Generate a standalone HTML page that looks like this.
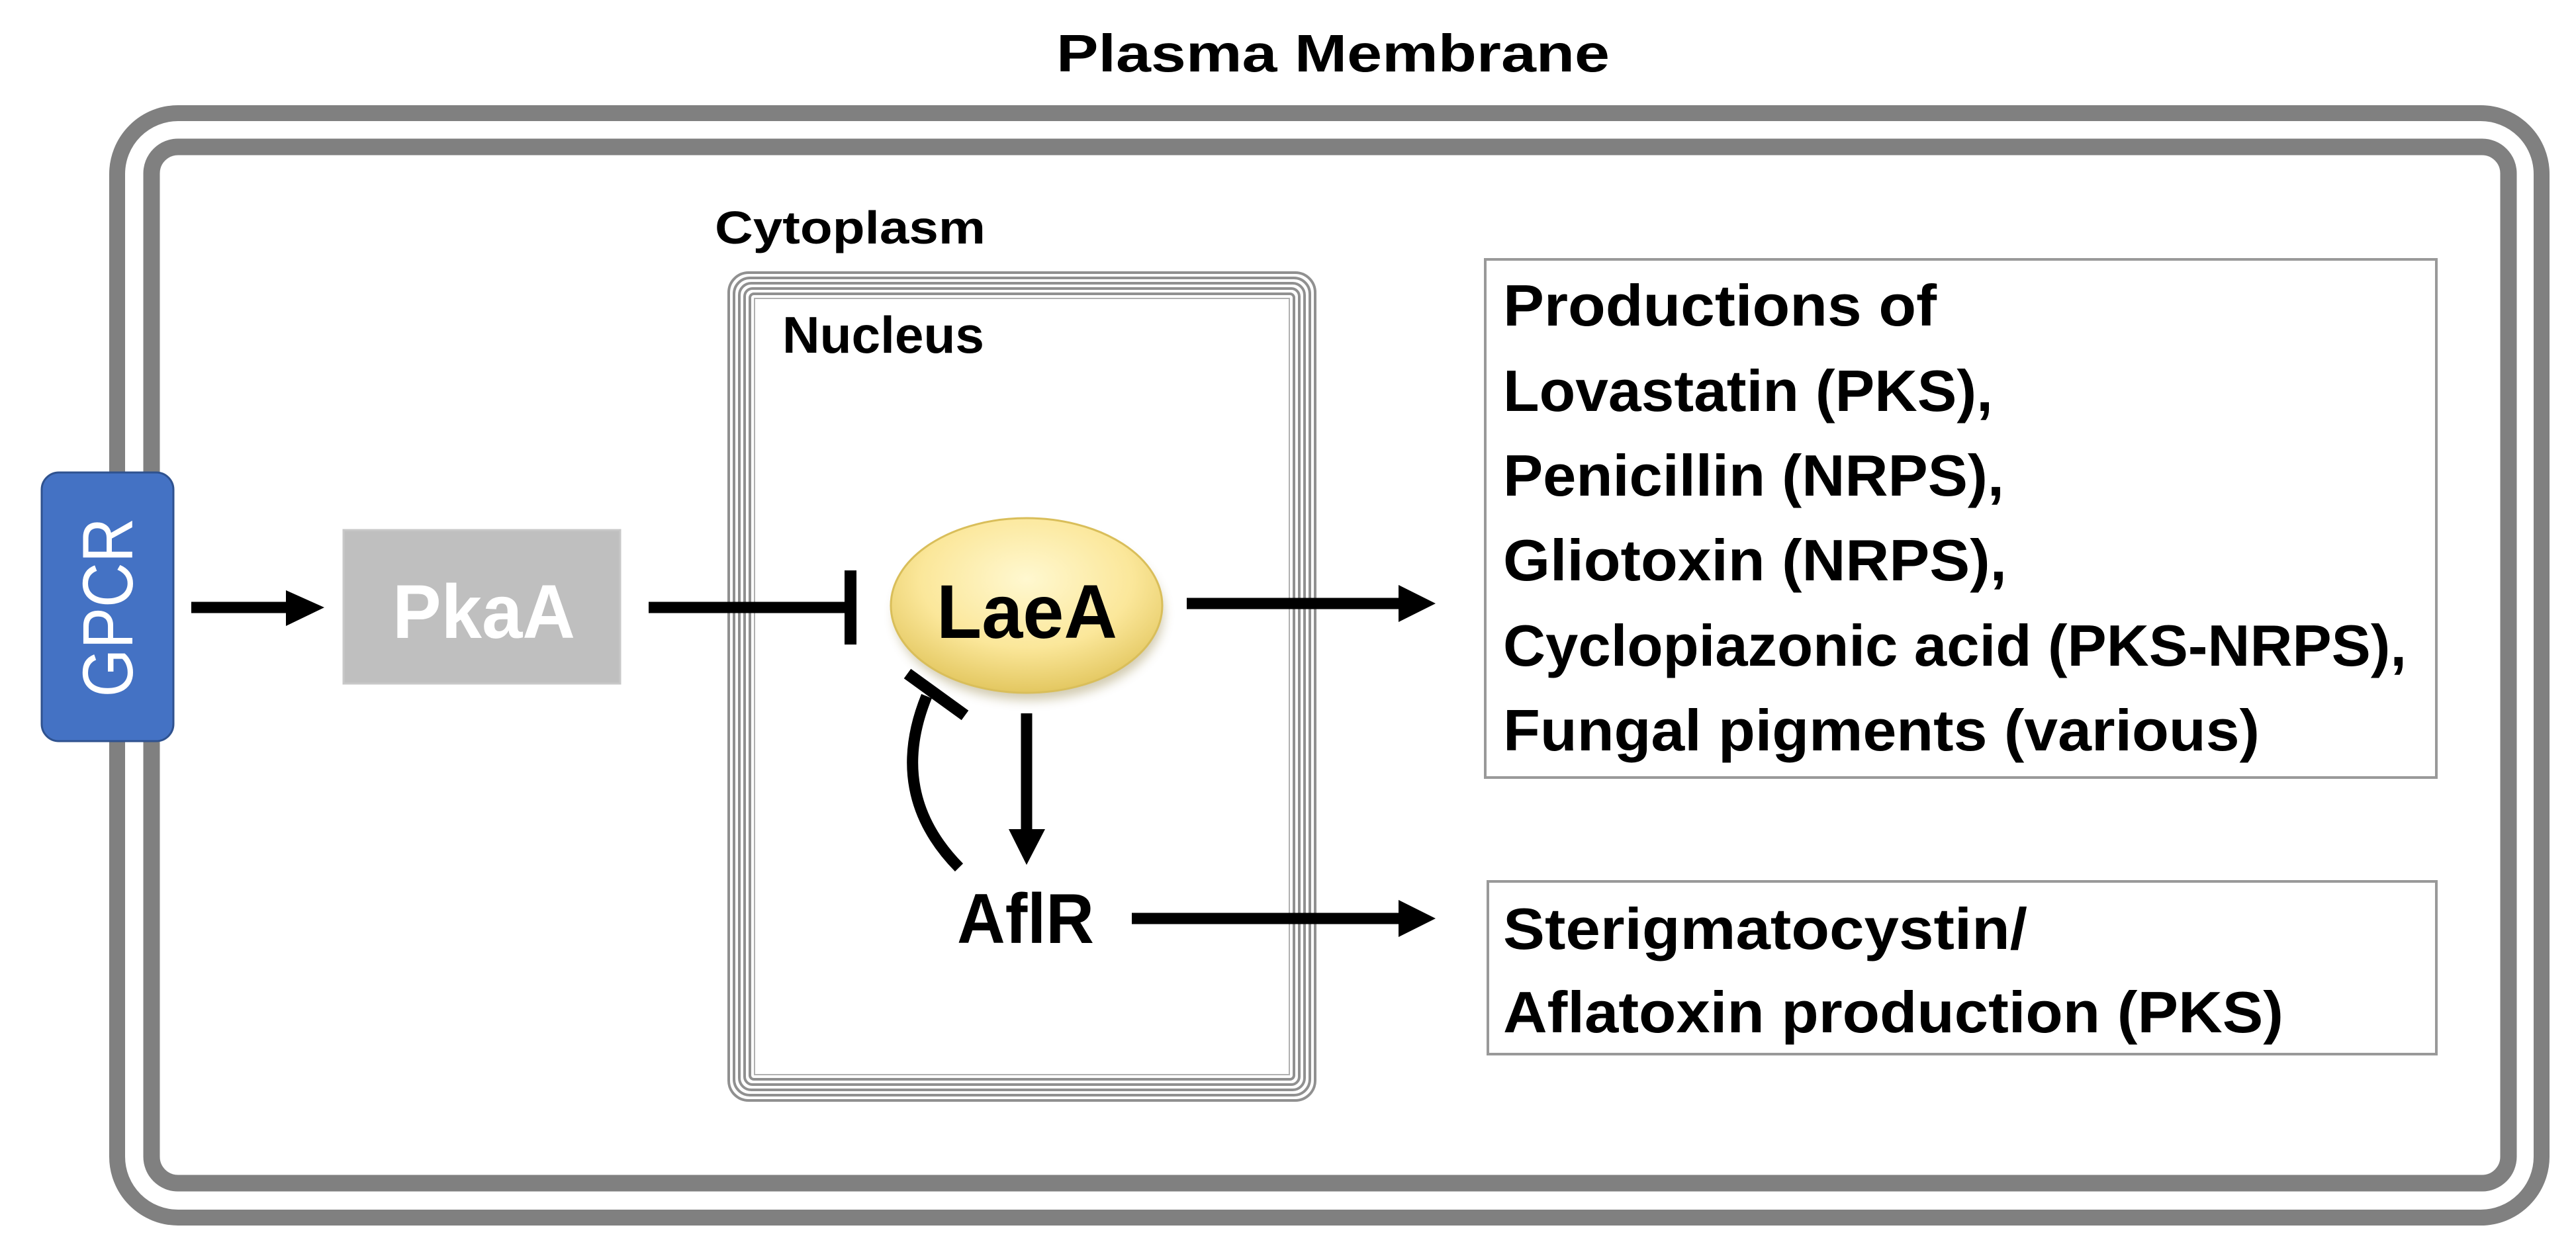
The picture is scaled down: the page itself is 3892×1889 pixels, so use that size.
<!DOCTYPE html>
<html><head><meta charset="utf-8"><style>
html,body{margin:0;padding:0;background:#fff;}
svg{display:block;}
text{font-family:"Liberation Sans",sans-serif;}
</style></head><body>
<svg width="3892" height="1889" viewBox="0 0 3892 1889" xmlns="http://www.w3.org/2000/svg">
<defs>
<radialGradient id="lg" cx="50%" cy="35%" r="65%">
<stop offset="0" stop-color="#FFF8D0"/>
<stop offset="0.6" stop-color="#FBE79A"/>
<stop offset="1" stop-color="#E3C760"/>
</radialGradient>
<filter id="sh" x="-20%" y="-20%" width="140%" height="150%"><feGaussianBlur stdDeviation="8"/></filter>
</defs>
<text x="1596" y="108" font-size="80" font-weight="bold" textLength="836" lengthAdjust="spacingAndGlyphs">Plasma Membrane</text>
<rect x="177" y="171" width="3663" height="1669" rx="92" fill="none" stroke="#808080" stroke-width="24"/>
<rect x="229" y="222" width="3561" height="1566" rx="40" fill="none" stroke="#808080" stroke-width="25"/>
<!-- GPCR -->
<rect x="63" y="714" width="199" height="406" rx="26" fill="#4472C4" stroke="#2F528F" stroke-width="3"/>
<text transform="translate(200,918) rotate(-90)" x="0" y="0" text-anchor="middle" font-size="108" fill="#fff" textLength="271" lengthAdjust="spacingAndGlyphs">GPCR</text>
<!-- arrow GPCR->PkaA -->
<line x1="289" y1="918" x2="440" y2="918" stroke="#000" stroke-width="17"/>
<polygon points="432,892 490,918 432,946" fill="#000"/>
<!-- PkaA -->
<rect x="519" y="801" width="418" height="232" fill="#BFBFBF" stroke="#C8C8C8" stroke-width="3"/>
<text x="593" y="964" font-size="115" font-weight="bold" fill="#fff" textLength="276" lengthAdjust="spacingAndGlyphs">PkaA</text>
<!-- Cytoplasm -->
<text x="1080" y="368" font-size="70" font-weight="bold" textLength="409" lengthAdjust="spacingAndGlyphs">Cytoplasm</text>
<!-- Nucleus nested -->
<g fill="none" stroke="#909090" stroke-width="4">
<rect x="1101" y="412" width="886" height="1251" rx="30"/>
<rect x="1109" y="420" width="870" height="1235" rx="24"/>
<rect x="1117" y="428" width="854" height="1219" rx="18"/>
<rect x="1125" y="436" width="838" height="1203" rx="12"/>
<rect x="1133" y="444" width="822" height="1187" rx="6"/>
</g>
<rect x="1140" y="451" width="808" height="1173" fill="none" stroke="#b0b0b0" stroke-width="2"/>
<text x="1182" y="533" font-size="78" font-weight="bold" textLength="305" lengthAdjust="spacingAndGlyphs">Nucleus</text>
<!-- PkaA inhibit LaeA -->
<line x1="980" y1="918" x2="1285" y2="918" stroke="#000" stroke-width="17"/>
<line x1="1285" y1="862" x2="1285" y2="974" stroke="#000" stroke-width="18"/>
<!-- LaeA ellipse -->
<ellipse cx="1555" cy="928" rx="203" ry="130" fill="#9a8a50" opacity="0.45" filter="url(#sh)"/>
<ellipse cx="1551" cy="915" rx="205" ry="132" fill="url(#lg)" stroke="#D9BE5A" stroke-width="3"/>
<text x="1415" y="964" font-size="115" font-weight="bold" textLength="273" lengthAdjust="spacingAndGlyphs">LaeA</text>
<!-- LaeA -> products -->
<line x1="1793" y1="912" x2="2120" y2="912" stroke="#000" stroke-width="17"/>
<polygon points="2113,884 2169,912 2113,940" fill="#000"/>
<!-- LaeA -> AflR -->
<line x1="1551" y1="1078" x2="1551" y2="1260" stroke="#000" stroke-width="17"/>
<polygon points="1524,1253 1579,1253 1551,1307" fill="#000"/>
<!-- AflR inhibit LaeA curve -->
<path d="M1449,1311 Q1340,1200 1400,1052" fill="none" stroke="#000" stroke-width="17"/>
<line x1="1371" y1="1018" x2="1458" y2="1081" stroke="#000" stroke-width="18"/>
<!-- AflR -->
<text x="1446" y="1425" font-size="107" font-weight="bold" textLength="207" lengthAdjust="spacingAndGlyphs">AflR</text>
<line x1="1710" y1="1388" x2="2120" y2="1388" stroke="#000" stroke-width="17"/>
<polygon points="2113,1360 2169,1388 2113,1416" fill="#000"/>
<!-- Products box -->
<rect x="2244" y="392" width="1437" height="783" fill="#fff" stroke="#999" stroke-width="4"/>
<g font-size="88" font-weight="bold">
<text x="2271" y="492" textLength="655" lengthAdjust="spacingAndGlyphs">Productions of</text>
<text x="2271" y="621" textLength="740" lengthAdjust="spacingAndGlyphs">Lovastatin (PKS),</text>
<text x="2271" y="749" textLength="757" lengthAdjust="spacingAndGlyphs">Penicillin (NRPS),</text>
<text x="2271" y="877" textLength="761" lengthAdjust="spacingAndGlyphs">Gliotoxin (NRPS),</text>
<text x="2271" y="1006" textLength="1365" lengthAdjust="spacingAndGlyphs">Cyclopiazonic acid (PKS-NRPS),</text>
<text x="2271" y="1134" textLength="1143" lengthAdjust="spacingAndGlyphs">Fungal pigments (various)</text>
</g>
<rect x="2248" y="1332" width="1433" height="261" fill="#fff" stroke="#999" stroke-width="4"/>
<g font-size="88" font-weight="bold">
<text x="2271" y="1434" textLength="792" lengthAdjust="spacingAndGlyphs">Sterigmatocystin/</text>
<text x="2271" y="1560" textLength="1179" lengthAdjust="spacingAndGlyphs">Aflatoxin production (PKS)</text>
</g>
</svg>
</body></html>
